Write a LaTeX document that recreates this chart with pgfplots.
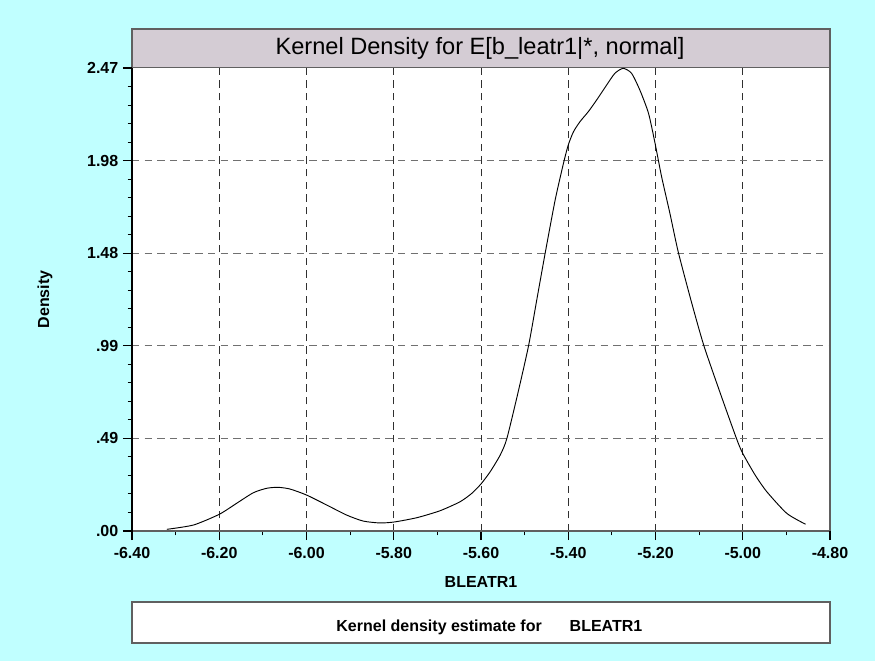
\documentclass[border=0pt]{standalone}
\usepackage{pgfplots}
\pgfplotsset{compat=1.18}
\usepackage{fontspec}
\setmainfont{Liberation Sans}
\definecolor{bgcyan}{RGB}{192,255,255}
\definecolor{titlegray}{RGB}{212,204,212}
\definecolor{gridv}{RGB}{48,48,48}
\definecolor{gridh}{RGB}{112,112,112}
\definecolor{framegray}{RGB}{96,96,96}

\pgfplotstableread{
x y
-6.320 0.009
-6.259 0.032
-6.200 0.089
-6.160 0.148
-6.122 0.204
-6.091 0.228
-6.065 0.233
-6.038 0.224
-6.000 0.192
-5.954 0.139
-5.908 0.085
-5.870 0.053
-5.832 0.043
-5.799 0.048
-5.747 0.071
-5.694 0.108
-5.648 0.156
-5.621 0.201
-5.600 0.251
-5.579 0.316
-5.556 0.405
-5.541 0.491
-5.516 0.730
-5.491 0.988
-5.472 1.235
-5.453 1.481
-5.430 1.766
-5.411 1.961
-5.400 2.059
-5.388 2.130
-5.373 2.184
-5.354 2.237
-5.335 2.299
-5.312 2.379
-5.293 2.442
-5.274 2.468
-5.255 2.442
-5.236 2.353
-5.216 2.228
-5.201 2.068
-5.186 1.890
-5.167 1.695
-5.148 1.490
-5.118 1.225
-5.089 0.988
-5.050 0.725
-5.014 0.491
-5.000 0.414
-4.972 0.300
-4.945 0.210
-4.899 0.094
-4.856 0.036
}\kde

\begin{document}
\begin{tikzpicture}[x=0.75pt,y=0.75pt]
% background and boxes, in pixel units (y up)
\fill[bgcyan] (0,0) rectangle (875,661);
\filldraw[fill=titlegray,draw=framegray,line width=0.9pt] (132,593) rectangle (830,632);
\node[font=\fontsize{17.7}{21}\selectfont] at (480,612.5) {Kernel Density for E[b\_leatr1|*, normal]};
\filldraw[fill=white,draw=framegray,line width=0.9pt] (132,18) rectangle (830,59);
\node[font=\fontsize{12}{14}\selectfont\bfseries,anchor=base west] at (331.7,30) {Kernel density estimate for};
\node[font=\fontsize{12}{14}\selectfont\bfseries,anchor=base west] at (565,30) {BLEATR1};

\begin{axis}[
  at={(99pt,97.5pt)}, anchor=south west,
  width=523.5pt, height=347.25pt, scale only axis,
  xmin=-6.4, xmax=-4.8, ymin=0, ymax=2.47,
  axis background/.style={fill=white},
  axis x line*=bottom, axis y line*=left,
  x axis line style={draw=framegray,line width=0.9pt,-},
  y axis line style={draw=black,line width=0.9pt,-},
  xtick={-6.2,-6.0,-5.8,-5.6,-5.4,-5.2,-5.0},
  xticklabels={-6.20,-6.00,-5.80,-5.60,-5.40,-5.20,-5.00},
  extra x ticks={-6.4,-4.8},
  extra x tick labels={-6.40,-4.80},
  minor xtick={-6.3,-6.1,-5.9,-5.7,-5.5,-5.3,-5.1,-4.9},
  ytick={0.494,0.988,1.482,1.976},
  yticklabels={.49,.99,1.48,1.98},
  extra y ticks={0,2.47},
  extra y tick labels={.00,2.47},
  minor ytick={0.0988,0.1976,0.2964,0.3952,0.5928,0.6916,0.7904,0.8892,
    1.0868,1.1856,1.2844,1.3832,1.5808,1.6796,1.7784,1.8772,
    2.0748,2.1736,2.2724,2.3712},
  extra tick style={grid=none},
  grid=major,
  major x grid style={draw=gridv,line width=0.7pt,dash pattern=on 5.5pt off 4pt},
  major y grid style={draw=gridh,line width=0.7pt,dash pattern=on 5.5pt off 4pt},
  tick align=outside,
  major tick length=6.75pt, minor tick length=3.2pt,
  every tick/.style={black,line width=0.8pt},
  /pgf/number format/assume math mode=true,
  tick label style={font=\fontsize{12}{14}\selectfont\bfseries},
  xticklabel style={yshift=-2pt},
  xlabel={BLEATR1}, ylabel={Density},
  label style={font=\fontsize{12}{14}\selectfont\bfseries},
  xlabel style={at={(axis description cs:0.5,-0.121)}, anchor=base},
  ylabel style={at={(axis description cs:-0.1246,0.5)}, anchor=center},
  clip=false,
]
\addplot[black, line width=0.7pt, smooth, tension=0.4] table[x=x,y=y] {\kde};
\end{axis}
\draw[framegray,line width=0.9pt] (830,130) -- (830,593);
\end{tikzpicture}
\end{document}
